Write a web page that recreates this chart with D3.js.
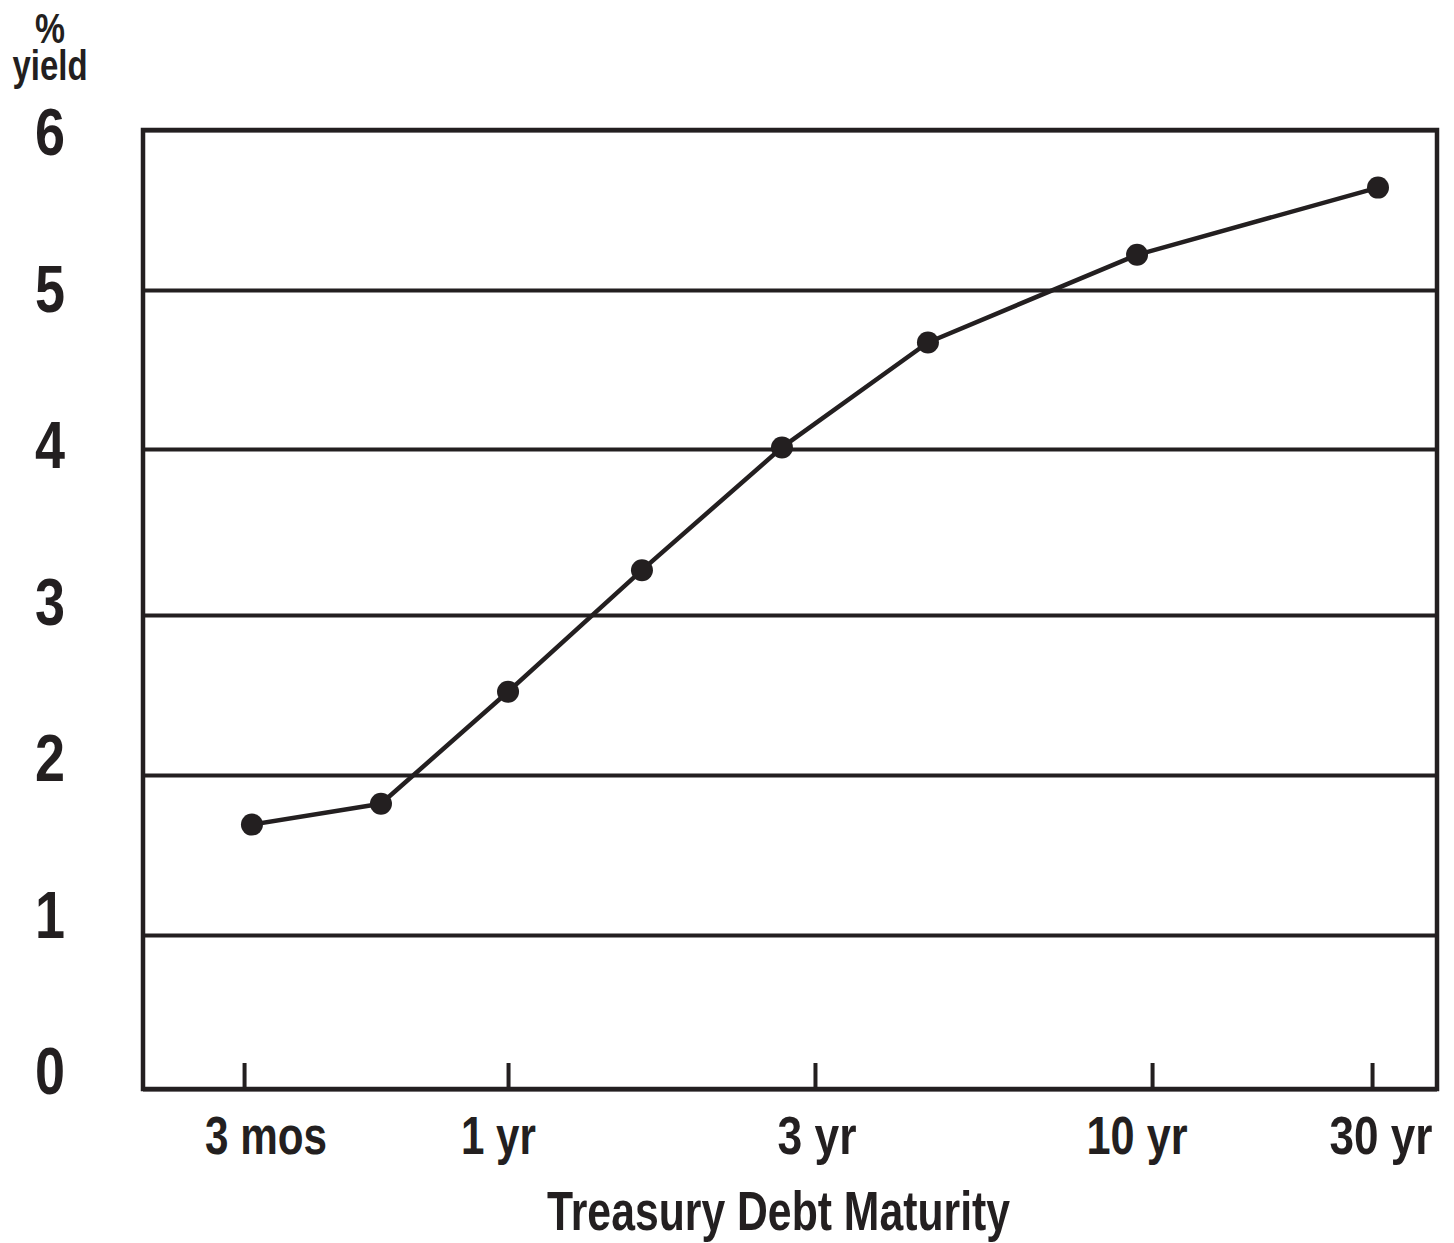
<!DOCTYPE html>
<html>
<head>
<meta charset="utf-8">
<script src="https://cdn.jsdelivr.net/npm/d3@7"></script>
<style>
  html, body { margin: 0; padding: 0; background: #fff; }
  svg { display: block; }
  text { font-family: "Liberation Sans Narrow", "Arial Narrow", "Liberation Sans", Arial, sans-serif; fill: #231f20; font-weight: bold; }
</style>
</head>
<body>
<svg id="chart" width="1454" height="1243"></svg>
<script>
// ---- data ----
const maturities = ["3 mos", "6 mos", "1 yr", "2 yr", "3 yr", "5 yr", "10 yr", "30 yr"];
// horizontal position of each maturity along the (non-uniform) maturity axis, 0-100
const maturityPos = [8.42, 18.39, 28.21, 38.56, 49.38, 60.66, 76.82, 95.44];
const yields = [1.69, 1.82, 2.52, 3.27, 4.01, 4.67, 5.22, 5.64];

const xTickLabels = ["3 mos", "1 yr", "3 yr", "10 yr", "30 yr"];
const xTickPos = [7.81, 28.21, 51.93, 77.98, 94.98];
const xLabelPos = [9.50, 27.47, 52.09, 76.82, 95.67];

const yTicks = [0, 1, 2, 3, 4, 5, 6];
const xTitle = "Treasury Debt Maturity";
const yTitle = ["%", "yield"];

// ---- layout ----
const ink = "#231f20";
const mLeft = 143, mRight = 1437, mTop = 130, mBottom = 1089;
// the printed grid is slightly uneven; scale follows its ruled lines
const yRange = [1089, 935, 775, 615, 449, 290, 130];
const xLabelWidths = [122, 75, 79, 101, 103];
const svg = d3.select("#chart");

const x = d3.scaleLinear().domain([0, 100]).range([mLeft, mRight]);
const y = d3.scaleLinear().domain(yTicks).range(yRange);
const yLabel = d3.scaleLinear().domain([0, 6]).range([1094, 155]);

// horizontal grid lines
const yAxis = d3.axisLeft(y).tickValues(yTicks).tickSize(-(mRight - mLeft)).tickFormat("");
const gy = svg.append("g").attr("transform", `translate(${mLeft},0)`).call(yAxis);
gy.select(".domain").remove();
gy.selectAll(".tick line").attr("stroke", ink).attr("stroke-width", 4);

// y labels
svg.append("g").selectAll("text")
  .data(yTicks)
  .join("text")
  .attr("x", 50)
  .attr("y", d => yLabel(d))
  .attr("text-anchor", "middle")
  .attr("font-size", 66)
  .attr("textLength", 30)
  .attr("lengthAdjust", "spacingAndGlyphs")
  .text(d => d3.format("d")(d));

// x axis ticks (pointing into the plot)
const xAxis = d3.axisBottom(x).tickValues(xTickPos).tickSize(-26).tickFormat("");
const gx = svg.append("g").attr("transform", `translate(0,${mBottom})`).call(xAxis);
gx.select(".domain").remove();
gx.selectAll(".tick line").attr("stroke", ink).attr("stroke-width", 4);

// x labels
svg.append("g").selectAll("text")
  .data(xTickLabels)
  .join("text")
  .attr("x", (d, i) => x(xLabelPos[i]))
  .attr("y", 1154)
  .attr("text-anchor", "middle")
  .attr("font-size", 53)
  .attr("textLength", (d, i) => xLabelWidths[i])
  .attr("lengthAdjust", "spacingAndGlyphs")
  .text(d => d);

// frame
svg.append("rect")
  .attr("x", mLeft).attr("y", mTop)
  .attr("width", mRight - mLeft).attr("height", mBottom - mTop)
  .attr("fill", "none").attr("stroke", ink).attr("stroke-width", 4.5);

// line
const line = d3.line().x((d, i) => x(maturityPos[i])).y(d => y(d));
svg.append("path")
  .datum(yields)
  .attr("d", line)
  .attr("fill", "none")
  .attr("stroke", ink)
  .attr("stroke-width", 4.5)
  .attr("stroke-linejoin", "round");

svg.append("g").selectAll("circle")
  .data(yields)
  .join("circle")
  .attr("cx", (d, i) => x(maturityPos[i]))
  .attr("cy", d => y(d))
  .attr("r", 11)
  .attr("fill", ink);

// titles
svg.append("text")
  .attr("x", 778.5).attr("y", 1230)
  .attr("text-anchor", "middle")
  .attr("font-size", 55)
  .attr("textLength", 463)
  .attr("lengthAdjust", "spacingAndGlyphs")
  .text(xTitle);

const yt = svg.append("text").attr("text-anchor", "middle");
yt.append("tspan")
  .attr("x", 50).attr("y", 43)
  .attr("font-size", 42)
  .attr("textLength", 30)
  .attr("lengthAdjust", "spacingAndGlyphs")
  .text(yTitle[0]);
yt.append("tspan")
  .attr("x", 50).attr("y", 80)
  .attr("font-size", 43)
  .attr("textLength", 75)
  .attr("lengthAdjust", "spacingAndGlyphs")
  .text(yTitle[1]);
</script>
</body>
</html>
